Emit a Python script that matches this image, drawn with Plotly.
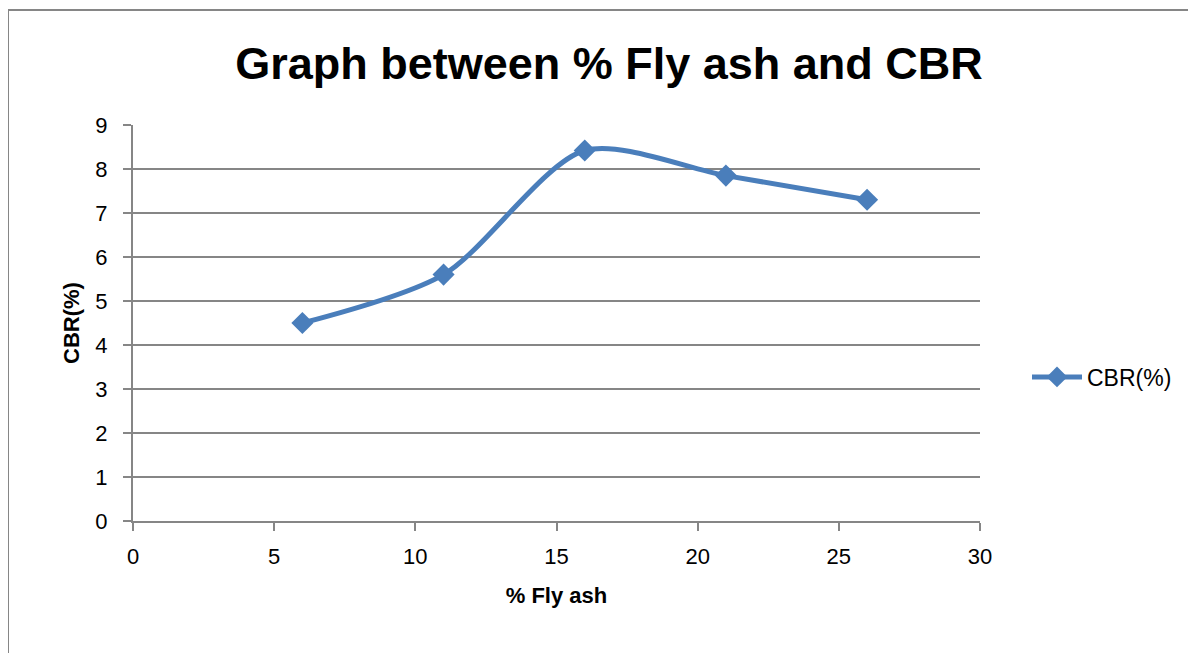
import plotly.graph_objects as go

fly_ash = [6, 11, 16, 21, 26]
cbr = [4.5, 5.6, 8.42, 7.85, 7.3]
series_name = "CBR(%)"
title_text = "Graph between % Fly ash and CBR"
x_title = "% Fly ash"
y_title = "CBR(%)"

# page is offset by the 8px body margin
OFF = 8
W, H = 1196, 653
L, R, T, B = 133 - OFF, 980 - OFF, 125 - OFF, 521 - OFF
pw, ph = R - L, B - T

fig = go.Figure()
fig.add_trace(go.Scatter(
    x=fly_ash, y=cbr, name=series_name, mode="lines+markers",
    line=dict(color="#4A7EBB", width=5, shape="spline", smoothing=0.8),
    marker=dict(symbol="diamond", size=17, color="#4A7EBB"),
))

font = "Liberation Sans, Arial, sans-serif"
grey = "#868686"

fig.update_layout(
    width=W, height=H,
    margin=dict(l=L, r=W - R, t=T, b=H - B, pad=0),
    paper_bgcolor="white", plot_bgcolor="white",
    font=dict(family=font, size=22, color="black"),
    title=dict(text="<b>" + title_text + "</b>", font=dict(size=45, family=font, color="black"),
               x=(609 - OFF) / W, xanchor="center", xref="container",
               y=1 - (63 - OFF) / H, yanchor="middle", yref="container"),
    xaxis=dict(range=[0, 30], dtick=5, tick0=0, showgrid=False, zeroline=False,
               showline=True, linecolor=grey, linewidth=2,
               ticks="outside", ticklen=8, tickwidth=2, tickcolor=grey,
               tickfont=dict(size=22), ticklabelstandoff=7,
               title=dict(text="<b>" + x_title + "</b>", font=dict(size=22), standoff=19)),
    yaxis=dict(range=[0, 9], dtick=1, tick0=0, showgrid=True, gridcolor=grey, gridwidth=2,
               zeroline=False, showline=True, linecolor=grey, linewidth=2,
               ticks="outside", ticklen=8, tickwidth=2, tickcolor=grey,
               tickfont=dict(size=22), ticklabelstandoff=11,
               title=dict(text="<b>" + y_title + "</b>", font=dict(size=22), standoff=10)),
    showlegend=True,
    legend=dict(x=(1027 - OFF - L) / pw, xanchor="left", y=(B - (377 - OFF)) / ph, yanchor="middle",
                font=dict(size=23), itemwidth=50, bgcolor="rgba(0,0,0,0)"),
    shapes=[dict(type="rect", xref="paper", yref="paper",
                 x0=(0 - L) / pw, x1=(1500 - L) / pw,
                 y0=(B - 1000) / ph, y1=(B - (10 - OFF)) / ph,
                 line=dict(color=grey, width=2), fillcolor="rgba(0,0,0,0)", layer="below")],
)

fig.write_html("out.html")
